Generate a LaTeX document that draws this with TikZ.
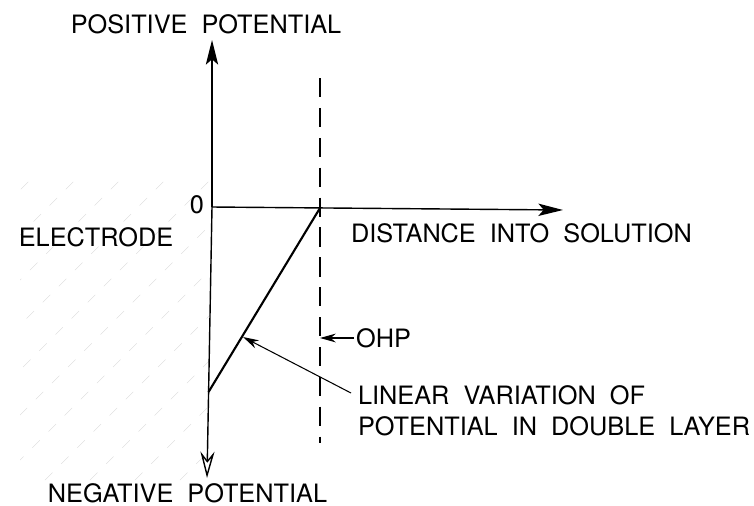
\documentclass[tikz,border=0pt]{standalone}
\usepackage{fontspec}
\setmainfont{TeX Gyre Heros}
\usetikzlibrary{calc, positioning, arrows.meta}
\tikzset{
    potential/.style={
        font=\Large,
        >={Stealth[length=14pt, width=7pt, inset=3pt]},
        axis/.style={thick, ->},
        negaxis/.style={thick, -{Stealth[open, length=15pt, width=8pt, inset=5pt]}},
        profile/.style={very thick, black},
        plane/.style={thick, dash pattern=on 11pt off 6pt},
        leader/.style={semithick, -{Stealth[length=9pt, width=5pt]}},
        hatch/.style={gray!30, very thin, dash pattern=on 6pt off 7pt},
        lbl/.style={inner sep=1pt}
    }
}

\begin{document}
\begin{tikzpicture}[potential]
        \useasboundingbox (0,0) rectangle (15.08,-10.1);

        % Electrode hatching
        \begin{scope}
            \clip (0.4,-1.2) rectangle (4.2,-9.6);
            \foreach \s in {-9,-8.1,...,4} {
                \draw[hatch] (\s,-9.6) -- ++(6,6);
            }
        \end{scope}

        % Axes
        \coordinate (orig) at (4.24,-4.14);
        \coordinate (ptop) at (4.24,-0.8);
        \coordinate (pbot) at (4.14,-9.56);
        \coordinate (xend) at (11.26,-4.2);
        \draw[axis] (orig) -- (ptop);
        \draw[negaxis] (orig) -- (pbot);
        \draw[axis] (orig) -- (xend);

        % Outer Helmholtz plane
        \coordinate (ohptop) at (6.4,-1.56);
        \coordinate (ohpbot) at (6.4,-8.86);
        \coordinate (ohpx) at (6.4,-4.16);
        \coordinate (surf) at (4.17,-7.84);
        \draw[plane] (ohptop) -- (ohpbot);
        \draw[profile] (surf) -- (ohpx);

        % Labels
        \node[lbl] (pos) at (4.12,-0.48) {POSITIVE\ \ POTENTIAL};
        \node[lbl] (neg) at (3.75,-9.86) {NEGATIVE\ \ POTENTIAL};
        \node[lbl] (elec) at (1.92,-4.74) {ELECTRODE};
        \node[lbl] (zero) at (3.94,-4.1) {0};
        \node[lbl] (dist) at (10.43,-4.66) {DISTANCE\ \ INTO\ \ SOLUTION};
        \node[lbl, anchor=west] (ohp) at (7.08,-6.76) {OHP};
        \node[lbl, anchor=north west, align=left] (lin) at (7.12,-7.66) {LINEAR\ \ VARIATION\ \ OF\\POTENTIAL\ \ IN\ \ DOUBLE\ \ LAYER};

        % Pointers
        \coordinate (ohpmark) at (6.4,-6.76);
        \coordinate (linmark) at (4.86,-6.74);
        \draw[leader] (ohp.west) -- (ohpmark);
        \draw[leader] ($(lin.north west)+(-0.1,-0.2)$) -- (linmark);

    \end{tikzpicture}
\end{document}
